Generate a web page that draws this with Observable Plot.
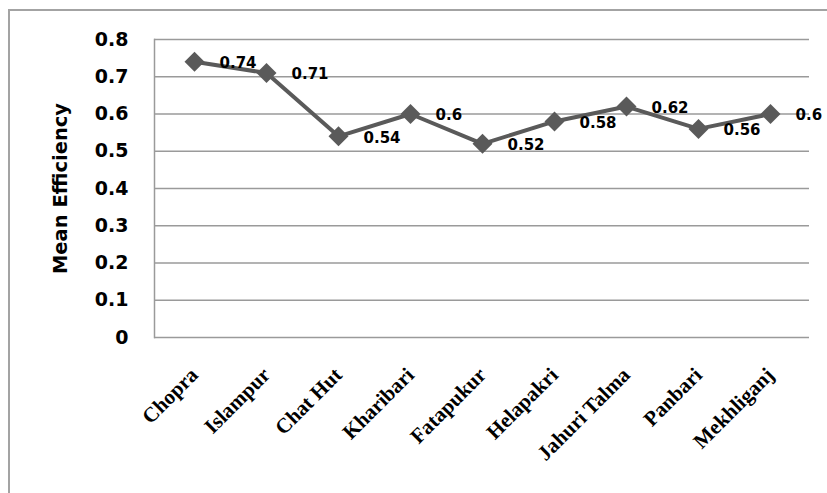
<!DOCTYPE html>
<html>
<head>
<meta charset="utf-8">
<script src="https://cdn.jsdelivr.net/npm/d3@7"></script>
<script src="https://cdn.jsdelivr.net/npm/@observablehq/plot@0.6"></script>
<style>
  html, body { margin: 0; padding: 0; background: #fff; overflow: hidden; }
  #wrap { position: relative; width: 827px; height: 493px; overflow: hidden; }
  #border { position: absolute; left: 8px; top: 9px; width: 900px; height: 600px;
            border: 2px solid #a3a3a3; box-sizing: border-box; }
  #chart { position: absolute; left: 0; top: 0; }
  #chart svg { overflow: visible; }
</style>
</head>
<body>
<div id="wrap"><div id="border"></div><div id="chart"></div></div>
<script>
const districts = ["Chopra", "Islampur", "Chat Hut", "Kharibari", "Fatapukur", "Helapakri", "Jahuri Talma", "Panbari", "Mekhliganj"];
const meanEfficiency = [0.74, 0.71, 0.54, 0.6, 0.52, 0.58, 0.62, 0.56, 0.6];
const yTicks = [0, 0.1, 0.2, 0.3, 0.4, 0.5, 0.6, 0.7, 0.8];
const yTickLabels = ["0", "0.1", "0.2", "0.3", "0.4", "0.5", "0.6", "0.7", "0.8"];
const yTitle = "Mean Efficiency";

const data = districts.map((d, i) => ({district: d, value: meanEfficiency[i]}));
const sans = "DejaVu Sans";
const serif = "Liberation Serif";

const chart = Plot.plot({
  width: 827,
  height: 493,
  marginLeft: 154,
  marginRight: 18,
  marginTop: 39,
  marginBottom: 156,
  style: {background: "transparent", overflow: "visible"},
  x: {type: "point", domain: districts, padding: 0.5},
  y: {domain: [0, 0.8]},
  marks: [
    Plot.ruleY(yTicks, {y: d => d, stroke: "#9a9a9a", strokeWidth: 1.5}),
    Plot.frame({anchor: "left", stroke: "#9a9a9a", strokeWidth: 1.5}),
    Plot.axisY({ticks: yTicks, tickFormat: d => yTickLabels[yTicks.indexOf(d)], tickSize: 0, tickPadding: 26,
      fontSize: 19, fontWeight: "bold", fontFamily: sans, fill: "#000", label: null}),
    Plot.text([yTitle], {frameAnchor: "left", dx: -94, rotate: -90, text: d => d, textAnchor: "middle",
      fontSize: 19.5, fontWeight: "bold", fontFamily: sans, fill: "#000"}),
    Plot.axisX({ticks: [], label: null, tickSize: 0}),
    Plot.text(districts, {x: d => d, text: d => d, frameAnchor: "bottom", dy: 34, rotate: -45,
      textAnchor: "end", lineAnchor: "middle", fontSize: 21, fontWeight: "bold", fontFamily: serif, fill: "#000"}),
    Plot.line(data, {x: "district", y: "value", stroke: "#5a5a5a", strokeWidth: 4}),
    Plot.dot(data, {x: "district", y: "value", symbol: "diamond2", r: 9, fill: "#5a5a5a", stroke: "none"}),
    Plot.text(data, {x: "district", y: "value", text: d => String(d.value), dx: 25, dy: 1.5,
      textAnchor: "start", fontSize: 15, fontWeight: "bold", fontFamily: sans, fill: "#000"})
  ]
});
document.getElementById("chart").appendChild(chart);
</script>
</body>
</html>
